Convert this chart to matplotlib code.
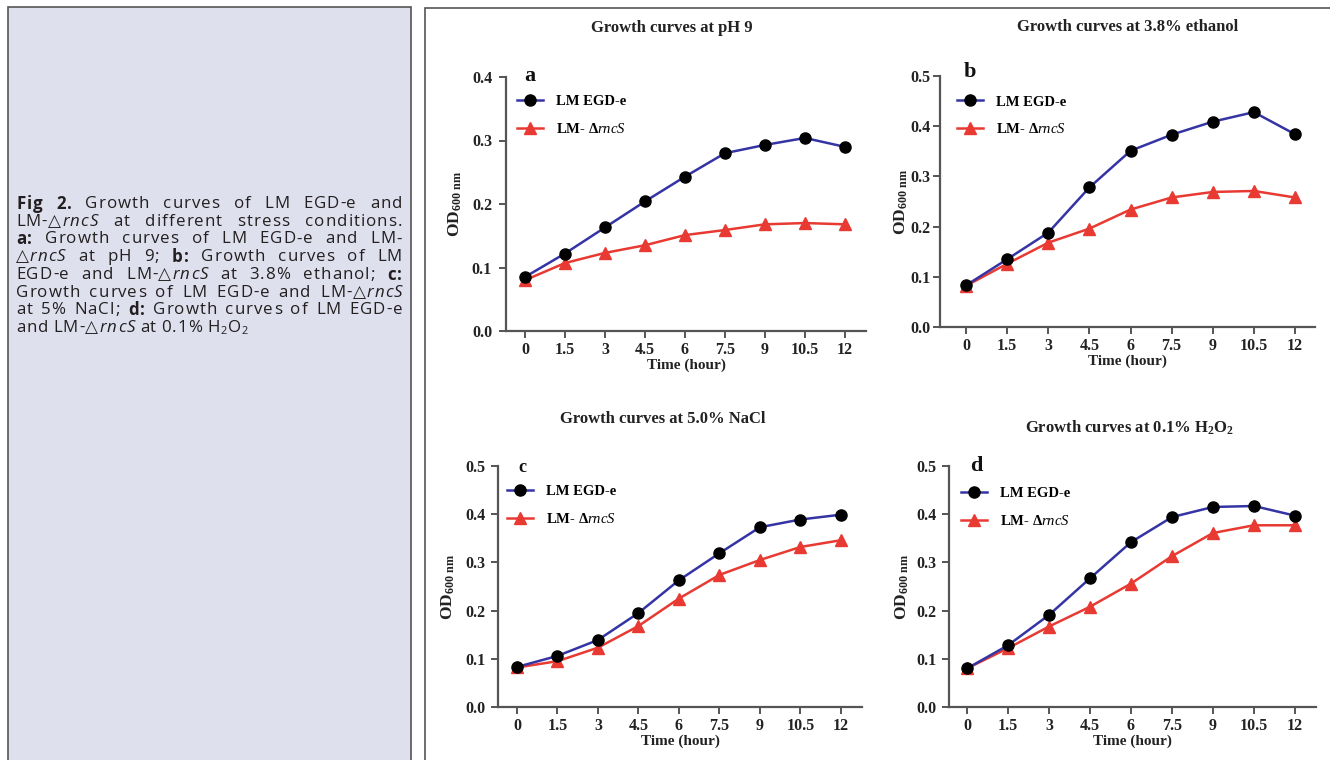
import re
import matplotlib
matplotlib.use("Agg")
import matplotlib.pyplot as plt
from matplotlib.patches import Rectangle

plt.rcParams['mathtext.fontset'] = 'custom'
plt.rcParams['mathtext.rm'] = 'Liberation Serif:bold'
plt.rcParams['mathtext.it'] = 'Liberation Serif:italic'
plt.rcParams['mathtext.bf'] = 'Liberation Serif:bold'

# data (OD600 vs time)
hours = [0, 1.5, 3, 4.5, 6, 7.5, 9, 10.5, 12]
hour_labels = ['0', '1.5', '3', '4.5', '6', '7.5', '9', '10.5', '12']

ph9_wt = [0.085, 0.122, 0.163, 0.204, 0.243, 0.280, 0.293, 0.304, 0.290]
ph9_mut = [0.080, 0.107, 0.123, 0.135, 0.151, 0.159, 0.168, 0.170, 0.168]

eth_wt = [0.083, 0.135, 0.188, 0.278, 0.351, 0.383, 0.409, 0.428, 0.384]
eth_mut = [0.082, 0.126, 0.168, 0.196, 0.234, 0.258, 0.269, 0.271, 0.258]

nacl_wt = [0.083, 0.106, 0.139, 0.195, 0.263, 0.319, 0.373, 0.389, 0.399]
nacl_mut = [0.082, 0.095, 0.123, 0.168, 0.225, 0.274, 0.305, 0.332, 0.346]

h2o2_wt = [0.080, 0.128, 0.191, 0.267, 0.342, 0.394, 0.415, 0.417, 0.397]
h2o2_mut = [0.080, 0.122, 0.167, 0.208, 0.256, 0.313, 0.361, 0.377, 0.377]

legend_labels = ['LM EGD-e', r'LM- $\Delta\mathit{rncS}$']

caption = [
    "*Fig* *2.* Growth curves of LM EGD-e and",
    "LM-△_rncS_ at different stress conditions.",
    "*a:* Growth curves of LM EGD-e and LM-",
    "△_rncS_ at pH 9; *b:* Growth curves of LM",
    "EGD-e and LM-△_rncS_ at 3.8% ethanol; *c:*",
    "Growth curves of LM EGD-e and LM-△_rncS_",
    "at 5% NaCl; *d:* Growth curves of LM EGD-e",
    "and LM-△_rncS_ at 0.1% H~2~O~2~",
]

FW, FH = 1330, 760
fig = plt.figure(figsize=(FW / 100, FH / 100), dpi=100)


def fx(px):
    return px / FW


def fy(py):
    return 1 - py / FH


# frames (behind the axes)
fig.patches.append(Rectangle((fx(8), fy(775)), fx(411) - fx(8), fy(7) - fy(775),
                             transform=fig.transFigure, facecolor='#dfe0ee',
                             edgecolor='#555555', lw=1.2, zorder=-10))
fig.patches.append(Rectangle((fx(425), fy(775)), fx(1340) - fx(425), fy(8) - fy(775),
                             transform=fig.transFigure, facecolor='white',
                             edgecolor='#555555', lw=1.2, zorder=-10))

# caption, justified word by word, with a little letter spacing
renderer = fig.canvas.get_renderer()
cap_family = ['Open Sans', 'DejaVu Sans']
cap_size = 12.2
track = 1.0
cap_left, cap_right = 16, 402
cap_top, cap_step = 204, 17.7


def run_props(kind):
    kw = dict(family=cap_family, fontsize=cap_size, color='#231f20', va='center', ha='left')
    dy = 0
    if kind == 'b':
        kw['fontweight'] = 'bold'
    elif kind == 'i':
        kw['style'] = 'italic'
    elif kind == 's':
        kw['fontsize'] = cap_size * 0.65
        dy = 3.5
    return kw, dy


def measure(txt, kw):
    t = fig.text(0, 0, txt, **kw)
    w = t.get_window_extent(renderer).width
    t.remove()
    return w


def parse_word(w):
    runs = []
    for tok in re.findall(r'\*[^*]+\*|_[^_]+_|~[^~]+~|[^*_~]+', w):
        if tok[0] == '*':
            runs.append((tok[1:-1], 'b'))
        elif tok[0] == '_':
            runs.append((tok[1:-1], 'i'))
        elif tok[0] == '~':
            runs.append((tok[1:-1], 's'))
        else:
            runs.append((tok, 'n'))
    return runs


for li, line in enumerate(caption):
    y = cap_top + li * cap_step
    words = [parse_word(w) for w in line.split(' ')]
    # char offsets inside each word
    layouts = []
    widths = []
    for runs in words:
        items = []
        x0 = 0
        for txt, kind in runs:
            kw, dy = run_props(kind)
            for k, ch in enumerate(txt):
                off = measure(txt[:k], kw) if k else 0
                items.append((ch, kw, dy, x0 + off + k * track))
            x0 += measure(txt, kw) + len(txt) * track
        layouts.append(items)
        widths.append(x0 - track)
    if li < len(caption) - 1:
        gap = (cap_right - cap_left - sum(widths)) / (len(words) - 1)
    else:
        gap = 5
    x = cap_left
    for items, ww in zip(layouts, widths):
        for ch, kw, dy, off in items:
            fig.text(fx(x + off), fy(y + dy), ch, **kw)
        x += ww + gap

# panels
serif = 'Liberation Serif'
blue = '#3434a4'
red = '#e83a32'
axis_col = '#555555'

panels = [
    dict(data=(ph9_wt, ph9_mut), px=(506, 866, 331, 77), ymax=0.4, xlim=(-0.71, 12.79),
         title='Growth curves at pH 9', title_xy=(672, 28), letter='a', letter_xy=(530, 76),
         letter_size=16, leg=(0.030, 0.93), ypad=5, ylpad=6),
    dict(data=(eth_wt, eth_mut), px=(940, 1315, 327, 76), ymax=0.5, xlim=(-0.95, 12.73),
         title='Growth curves at 3.8% ethanol', title_xy=(1128, 27), letter='b', letter_xy=(970, 72),
         letter_size=16, leg=(0.045, 0.923), ypad=2, ylpad=0),
    dict(data=(nacl_wt, nacl_mut), px=(498, 862, 707, 466), ymax=0.5, xlim=(-0.70, 12.78),
         title='Growth curves at 5.0% NaCl', title_xy=(663, 419), letter='c', letter_xy=(522, 468),
         letter_size=13, leg=(0.024, 0.922), ypad=4, ylpad=6),
    dict(data=(h2o2_wt, h2o2_mut), px=(949, 1316, 707, 466), ymax=0.5, xlim=(-0.66, 12.77),
         title=r'Growth curves at 0.1% $\mathbf{H_2O_2}$', title_xy=(1130, 428), letter='d',
         letter_xy=(976, 466), letter_size=16, leg=(0.032, 0.912), ypad=4, ylpad=4),
]

for p in panels:
    l, r, b, t = p['px']
    ax = fig.add_axes([fx(l), fy(b), fx(r) - fx(l), fy(t) - fy(b)])
    ax.patch.set_alpha(0)
    wt, mut = p['data']
    ax.plot(hours, wt, color=blue, lw=1.8, marker='o', ms=8, mfc='black', mec='black',
            label=legend_labels[0], zorder=3, clip_on=False)
    ax.plot(hours, mut, color=red, lw=1.8, marker='^', ms=8, mfc=red, mec=red,
            label=legend_labels[1], zorder=2, clip_on=False)
    ax.set_xlim(*p['xlim'])
    ax.set_ylim(0, p['ymax'])
    ax.set_xticks(hours)
    ax.set_xticklabels(hour_labels)
    yt = [i / 10 for i in range(int(round(p['ymax'] * 10)) + 1)]
    ax.set_yticks(yt)
    ax.set_yticklabels(['%.1f' % v for v in yt])
    for s in ['top', 'right']:
        ax.spines[s].set_visible(False)
    for s in ['left', 'bottom']:
        ax.spines[s].set_color(axis_col)
        ax.spines[s].set_linewidth(1.6)
    ax.tick_params(direction='out', length=5, width=1.4, color=axis_col)
    ax.tick_params(axis='x', pad=3)
    ax.tick_params(axis='y', pad=p['ypad'])
    for lab in ax.get_xticklabels() + ax.get_yticklabels():
        lab.set_fontfamily(serif)
        lab.set_fontweight('bold')
        lab.set_fontsize(11.5)
        lab.set_color('#222222')
    ax.set_xlabel('Time (hour)', family=serif, fontweight='bold', fontsize=11,
                  color='#222222', labelpad=0)
    ax.set_ylabel(r'$\mathbf{OD}_{\mathrm{600\ nm}}$', family=serif, fontsize=12.5,
                  color='#222222', labelpad=p['ylpad'])
    leg = ax.legend(loc='upper left', bbox_to_anchor=p['leg'], frameon=False,
                    handlelength=1.8, handletextpad=0.9, labelspacing=0.95,
                    borderpad=0, borderaxespad=0,
                    prop=dict(family=serif, weight='bold', size=10.5))
    fig.text(fx(p['title_xy'][0]), fy(p['title_xy'][1]), p['title'], family=serif,
             fontweight='bold', fontsize=12, ha='center', va='center', color='#222222')
    fig.text(fx(p['letter_xy'][0]), fy(p['letter_xy'][1]), p['letter'], family=serif,
             fontweight='bold', fontsize=p['letter_size'], ha='center', va='center',
             color='#111111')

fig.savefig('out.png', dpi=100)
